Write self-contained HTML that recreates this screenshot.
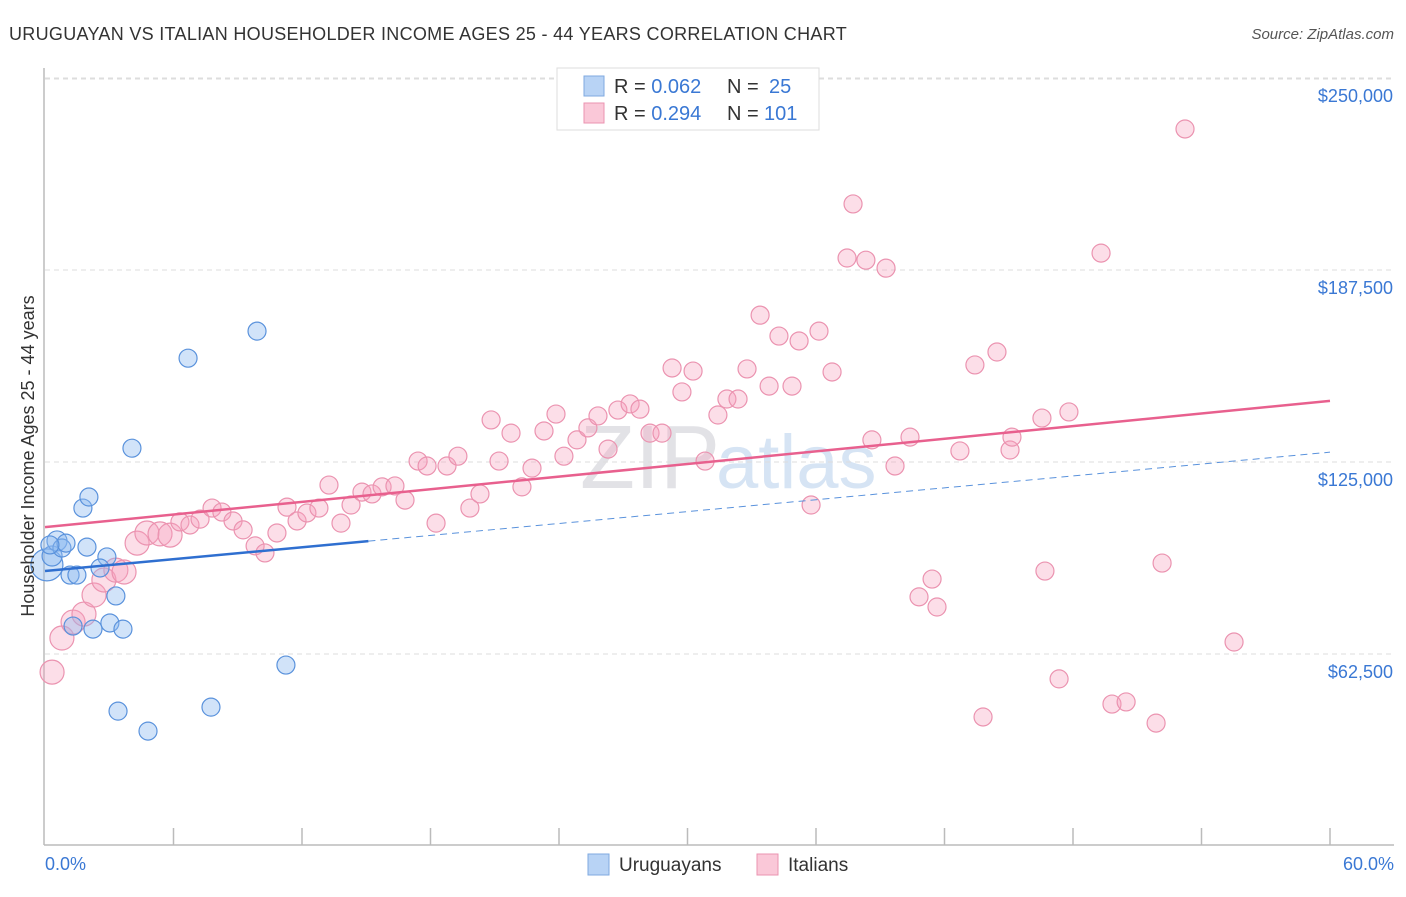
<!DOCTYPE html>
<html><head><meta charset="utf-8"><style>
body{margin:0;background:#fff;font-family:"Liberation Sans",sans-serif;}
svg text{font-family:"Liberation Sans",sans-serif;}
</style></head><body>
<svg id="chart" width="1406" height="892" viewBox="0 0 1406 892">
<text x="9" y="40" font-size="18" fill="#333" letter-spacing="0.3">URUGUAYAN VS ITALIAN HOUSEHOLDER INCOME AGES 25 - 44 YEARS CORRELATION CHART</text>
<text x="1394" y="39" font-size="15" fill="#555" text-anchor="end" font-style="italic">Source: ZipAtlas.com</text>
<text x="720" y="488" font-size="90" fill="#e2e2e6" text-anchor="end" font-family="Liberation Serif">ZIP</text>
<text x="716" y="488" font-size="76" fill="#d6e4f4">atlas</text>
<g id="grid"></g>
<line x1="44" y1="68" x2="44" y2="845" stroke="#bbb" stroke-width="1.5"/>
<line x1="44" y1="845" x2="1394" y2="845" stroke="#bbb" stroke-width="1.5"/>
<g id="xticks"></g>
<g id="points"></g>
<g id="trends"></g>
<text x="34" y="456" font-size="18" fill="#333" text-anchor="middle" transform="rotate(-90 34 456)">Householder Income Ages 25 - 44 years</text>
<text x="45" y="870" font-size="18" fill="#3a78d4">0.0%</text>
<text x="1394" y="870" font-size="18" fill="#3a78d4" text-anchor="end">60.0%</text>
<g>
<rect x="557" y="68" width="262" height="62" fill="#fff" stroke="#ddd"/>
<rect x="584" y="76" width="20" height="20" fill="#b8d3f5" stroke="#7fa9e0"/>
<rect x="584" y="103" width="20" height="20" fill="#fac8d8" stroke="#eb93b0"/>
<text x="614" y="93" font-size="20" fill="#333">R = <tspan fill="#3a78d4">0.062</tspan><tspan x="727">N = </tspan><tspan x="769" fill="#3a78d4">25</tspan></text>
<text x="614" y="120" font-size="20" fill="#333">R = <tspan fill="#3a78d4">0.294</tspan><tspan x="727">N = </tspan><tspan x="764" fill="#3a78d4">101</tspan></text>
</g>
<g>
<rect x="588" y="854" width="21" height="21" fill="#b8d3f5" stroke="#7fa9e0"/>
<text x="619" y="871" font-size="19" fill="#333">Uruguayans</text>
<rect x="757" y="854" width="21" height="21" fill="#fac8d8" stroke="#eb93b0"/>
<text x="788" y="871" font-size="19" fill="#333">Italians</text>
</g>
</svg>
<script>
const yTicks=[62500,125000,187500,250000];
const yTickLabels=["$62,500","$125,000","$187,500","$250,000"];
const xTicks=[6,12,18,24,30,36,42,48,54,60];
const bluePct=[0.09,0.33,0.56,0.79,0.98,1.17,1.49,1.96,1.77,2.05,2.89,2.57,3.31,3.03,1.31,2.24,3.64,4.06,6.68,9.90,11.25,3.41,7.75,4.81,0.23];
const blueVal=[91.5,94.4,99.3,97.0,98.6,88.2,88.2,97.3,110.0,113.6,94.1,90.5,81.4,72.6,71.6,70.6,70.6,129.5,158.8,167.6,58.9,43.9,45.2,37.4,98.0];
const pinkPct=[0.33,0.79,1.31,1.82,2.29,2.75,3.31,3.69,4.30,4.76,5.37,5.84,6.30,6.77,7.24,7.80,8.26,8.78,9.25,9.81,10.27,10.83,11.30,11.77,12.23,12.79,13.26,13.82,14.29,14.80,15.27,15.74,16.34,16.81,17.42,17.84,18.26,18.77,19.28,19.84,20.31,20.83,21.20,21.76,22.27,22.74,23.30,23.86,24.23,24.84,25.35,25.82,26.29,26.75,27.32,27.78,28.25,28.81,29.28,29.74,30.26,30.82,31.42,31.84,32.36,32.78,33.39,33.81,34.27,34.88,35.21,35.77,36.14,36.75,37.45,37.73,38.33,38.61,39.27,39.69,40.39,40.81,41.42,41.65,42.72,43.42,43.80,44.45,45.06,45.15,46.69,46.55,47.35,47.81,49.31,49.82,50.48,51.88,52.16,53.23,55.52];
const pinkVal=[56.6,67.7,72.9,75.5,81.7,86.6,89.8,89.2,98.6,101.9,101.6,101.2,105.5,104.5,106.4,110.0,108.7,105.8,102.9,97.7,95.4,101.9,110.3,105.8,108.4,110.0,117.5,105.1,111.0,115.2,114.6,116.9,117.2,112.6,125.3,123.7,105.1,123.7,126.9,110.0,114.6,138.7,125.3,134.4,116.9,123.0,135.1,140.6,126.9,132.2,136.1,140.0,129.2,141.9,143.9,142.2,134.4,134.4,155.6,147.8,154.6,125.3,140.3,145.5,145.5,155.3,172.8,149.7,166.0,149.7,164.4,111.0,167.6,154.3,191.4,209.0,190.7,132.2,188.1,123.7,133.1,81.1,86.9,77.8,128.6,156.6,42.0,160.8,128.9,133.1,89.5,139.3,54.4,141.3,193.0,46.2,46.9,40.0,92.1,233.4,66.4];
const pinkTrend=[103.8,144.9];
const blueTrend=[89.5,128.2];
const blueSolidEnd=15.1;
const NS="http://www.w3.org/2000/svg";
const X=p=>45+p/60*1285;
const Y=k=>846-k*1000/62500*192;
function mk(t,a,parent){const e=document.createElementNS(NS,t);for(const k in a)e.setAttribute(k,a[k]);parent.appendChild(e);return e;}
const grid=document.getElementById('grid');
yTicks.forEach((v,i)=>{const y=Y(v/1000);
const l=mk('line',{x1:45,x2:1394,y1:y,y2:y,stroke:'#ddd','stroke-dasharray':'5,4'},grid);


const t=mk('text',{x:1393,y:y+24,'font-size':18,fill:'#3a78d4','text-anchor':'end'},grid);t.textContent=yTickLabels[i];

});
const topLine=mk('line',{x1:45,x2:1394,y1:79,y2:79,stroke:'#ddd','stroke-dasharray':'5,4'},grid);


const xt=document.getElementById('xticks');
xTicks.forEach(p=>{const l=mk('line',{x1:X(p),x2:X(p),y1:828,y2:845,stroke:'#bbb','stroke-width':1.5},xt);

});
const pts=document.getElementById('points');
pinkPct.forEach((p,i)=>{const r=i<12?12:9;const c=mk('circle',{cx:X(p),cy:Y(pinkVal[i]),r:r,fill:'rgba(245,160,190,0.35)',stroke:'#eb93b0','stroke-width':1.2},pts);

});
bluePct.forEach((p,i)=>{const r=i==0?16:(i<3?10:9);const c=mk('circle',{cx:X(p),cy:Y(blueVal[i]),r:r,fill:'rgba(140,185,240,0.4)',stroke:'#5a92dc','stroke-width':1.2},pts);

});
const tr=document.getElementById('trends');
const lerp=(t,p)=>t[0]+(t[1]-t[0])*p/60;
const pl=mk('line',{x1:X(0),y1:Y(pinkTrend[0]),x2:X(60),y2:Y(pinkTrend[1]),stroke:'#e8608e','stroke-width':2.5},tr);


const bs=mk('line',{x1:X(0),y1:Y(blueTrend[0]),x2:X(blueSolidEnd),y2:Y(lerp(blueTrend,blueSolidEnd)),stroke:'#2f6fd0','stroke-width':2.5},tr);


const bd=mk('line',{x1:X(blueSolidEnd),y1:Y(lerp(blueTrend,blueSolidEnd)),x2:X(60),y2:Y(blueTrend[1]),stroke:'#5a92dc','stroke-width':1,'stroke-dasharray':'7,5'},tr);


</script>
</body></html>
